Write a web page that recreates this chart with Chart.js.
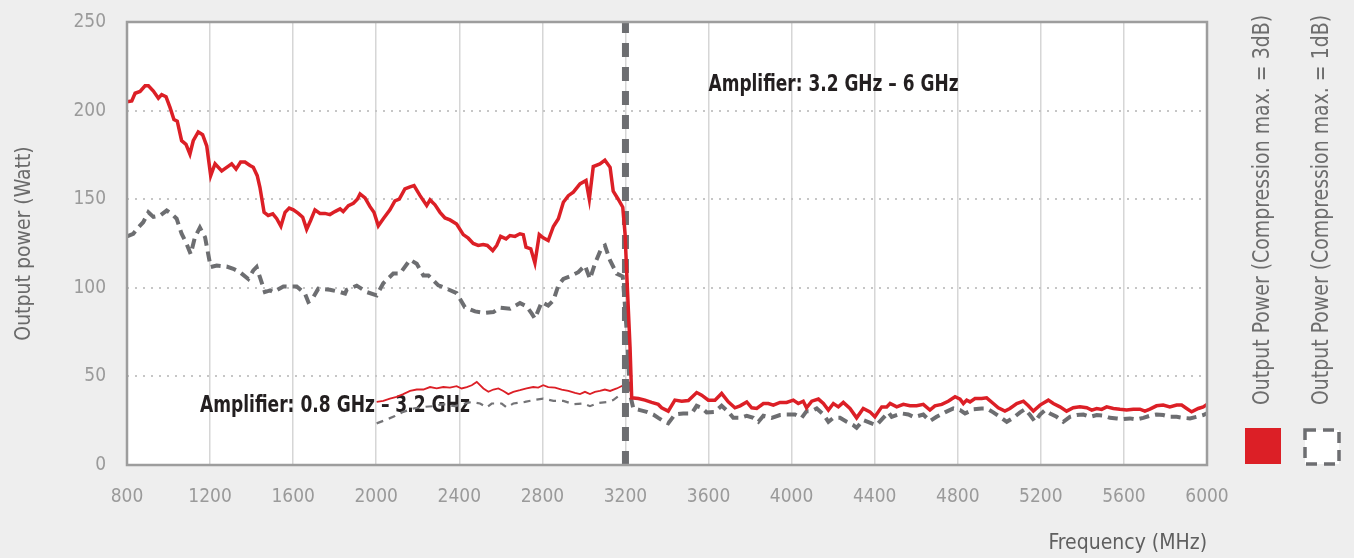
<!DOCTYPE html>
<html>
<head>
<meta charset="utf-8">
<script src="https://cdn.jsdelivr.net/npm/chart.js@4.4.1/dist/chart.umd.min.js"></script>
<style>
  html, body { margin: 0; padding: 0; background: #eeeeee; }
</style>
</head>
<body>
<canvas id="myChart" width="1354" height="558"></canvas>
<script>
'use strict';

// thick red: output power, compression max. = 3dB
var freq3dB = [
    800, 823, 839, 863, 887, 903, 927, 951, 967, 988,
    1007, 1026, 1042, 1063, 1084, 1103, 1119, 1143, 1164, 1184,
    1203, 1224, 1256, 1280, 1304, 1325, 1347, 1368, 1392, 1408,
    1427, 1440, 1460, 1480, 1502, 1521, 1541, 1561, 1581, 1601,
    1625, 1646, 1665, 1684, 1705, 1729, 1753, 1777, 1801, 1826,
    1841, 1866, 1890, 1909, 1922, 1946, 1970, 1989, 2010, 2034,
    2066, 2090, 2111, 2138, 2163, 2182, 2211, 2243, 2259, 2283,
    2307, 2331, 2355, 2387, 2419, 2443, 2467, 2491, 2515, 2535,
    2561, 2580, 2599, 2625, 2644, 2668, 2692, 2708, 2721, 2744,
    2764, 2785, 2804, 2828, 2853, 2877, 2901, 2925, 2949, 2981,
    3010, 3026, 3045, 3077, 3101, 3126, 3141, 3165, 3187, 3198,
    3209, 3222, 3230, 3262, 3294, 3326, 3358, 3374, 3406, 3438,
    3471, 3503, 3543, 3567, 3599, 3631, 3663, 3695, 3727, 3752,
    3784, 3808, 3832, 3864, 3888, 3912, 3944, 3976, 4008, 4032,
    4056, 4072, 4097, 4129, 4153, 4177, 4201, 4225, 4249, 4281,
    4313, 4345, 4377, 4401, 4434, 4458, 4474, 4506, 4538, 4570,
    4602, 4634, 4666, 4690, 4723, 4754, 4787, 4811, 4827, 4843,
    4859, 4883, 4915, 4939, 4971, 4995, 5027, 5051, 5084, 5116,
    5140, 5164, 5196, 5236, 5260, 5292, 5324, 5356, 5388, 5421,
    5445, 5469, 5493, 5517, 5549, 5581, 5613, 5645, 5677, 5701,
    5725, 5757, 5789, 5821, 5854, 5878, 5902, 5926, 5958, 5982, 6000
];
var power3dB = [
    205, 205.5, 209.8, 210.8, 214, 214, 211, 207, 209, 207.8,
    201.8, 195, 194, 183, 181, 175.5, 183, 188, 186.4, 180,
    163.3, 170, 166, 168, 170, 167, 171, 171, 169, 168,
    163.3, 156.7, 142.6, 140.8, 141.7, 139, 134.7, 142.6, 145, 144,
    142, 139.8, 133, 138, 144, 142, 142, 141.3, 143, 144.5,
    143, 146.4, 147.7, 150, 153, 150.7, 145.8, 142.6, 135, 139,
    144, 149, 150, 155.8, 157, 157.7, 152, 146.4, 149.6, 146.8,
    142.6, 139.4, 138.3, 136, 130, 128, 125, 123.9, 124.4, 123.9,
    121, 123.9, 129, 127.6, 129.5, 129, 130.5, 130, 122.9, 122,
    114, 130, 128.2, 126.7, 134.6, 139, 148.3, 152, 154, 158.6,
    160.5, 150, 168.4, 169.9, 172, 168, 154.5, 150, 145.5, 130.5,
    100.4, 66.6, 37.9, 37.5, 36.6, 35.3, 34.2, 32.3, 30.4, 36.6,
    36, 36.4, 40.9, 39.4, 36.6, 36.6, 40.4, 35.6, 32.3, 33.4,
    35.6, 32.3, 31.9, 34.7, 34.7, 33.8, 35.3, 35.3, 36.6, 34.7,
    36, 32.3, 36, 37.2, 34.7, 31, 34.7, 32.8, 35.3, 31.9,
    26.6, 31.9, 30, 27.2, 32.8, 32.8, 34.7, 32.8, 34.2, 33.5,
    33.4, 34.2, 31, 33.4, 34.2, 36, 38.5, 37.2, 34.7, 36.6,
    35.6, 37.5, 37.5, 37.9, 34.7, 32.3, 30.4, 31.9, 34.7, 36,
    33.4, 30.4, 33.8, 36.6, 34.7, 32.8, 30.4, 32.3, 32.8, 32.3,
    31, 31.9, 31.4, 32.8, 31.9, 31.4, 31, 31.5, 31.5, 30.4,
    31.5, 33.4, 33.8, 32.8, 33.8, 33.8, 31.9, 30, 31.9, 32.8, 34.2
];

// thick grey dashed: output power, compression max. = 1dB
var freq1dB = [
    800, 830, 854, 878, 903, 927, 959, 991, 1015, 1039,
    1063, 1087, 1107, 1127, 1151, 1176, 1191, 1203, 1232, 1280,
    1312, 1344, 1384, 1408, 1424, 1440, 1464, 1489, 1504, 1553,
    1617, 1657, 1673, 1689, 1721, 1777, 1826, 1850, 1858, 1906,
    1954, 2002, 2034, 2082, 2114, 2163, 2195, 2227, 2251, 2299,
    2339, 2387, 2427, 2476, 2524, 2564, 2596, 2644, 2692, 2724,
    2749, 2764, 2797, 2828, 2853, 2877, 2901, 2933, 2973, 3005,
    3029, 3053, 3086, 3101, 3126, 3158, 3187, 3198, 3209, 3222,
    3238, 3270, 3302, 3334, 3358, 3382, 3406, 3438, 3478, 3519,
    3543, 3567, 3591, 3631, 3663, 3695, 3719, 3752, 3784, 3816,
    3840, 3864, 3904, 3944, 3976, 4016, 4048, 4072, 4097, 4121,
    4153, 4177, 4201, 4233, 4265, 4297, 4313, 4345, 4385, 4409,
    4441, 4466, 4482, 4530, 4562, 4590, 4634, 4666, 4698, 4738,
    4779, 4811, 4835, 4859, 4875, 4915, 4939, 4971, 5003, 5036,
    5067, 5100, 5124, 5148, 5172, 5196, 5220, 5244, 5276, 5308,
    5340, 5373, 5405, 5437, 5469, 5501, 5533, 5565, 5597, 5629,
    5661, 5693, 5725, 5757, 5789, 5821, 5854, 5886, 5918, 5950, 5982, 6000
];
var power1dB = [
    129, 130.5, 134, 137, 142.6, 140, 140.8, 143.6, 141.7, 139,
    130.5, 124.8, 119, 128.5, 134, 128.5, 119, 111.7, 112.6, 112,
    110.7, 108.8, 105, 109.8, 111.7, 106, 97.6, 98.5, 97.6, 100.8,
    100.8, 96.7, 92, 93, 99.5, 98.9, 97.6, 96.7, 98.9, 101.2,
    97.6, 95.7, 102.6, 108, 108, 115.8, 113.6, 107, 107, 101.4,
    99.5, 97, 89, 86.7, 85.8, 86.3, 88.8, 88.2, 91.4, 89.5,
    85.4, 82.6, 92, 90, 92.9, 101.4, 105, 106.4, 108.8, 112.6,
    105, 113.6, 122.9, 123.9, 115.4, 108, 106.4, 89, 70, 40,
    31.9, 31, 30, 28.5, 26.6, 24.8, 23.5, 28.5, 29.1, 29.1,
    33.4, 32.3, 29.7, 30, 33.4, 30, 26.6, 26.6, 27.8, 26.6,
    24.4, 27.8, 26.6, 28.2, 28.5, 28.5, 26.6, 30.4, 30.4, 31.9,
    28.5, 24.4, 26.6, 26.6, 24.4, 22.5, 21, 25.3, 23.5, 22.5,
    26.6, 29.7, 27.2, 29.1, 28.5, 27, 28.5, 24.8, 27.2, 29.7,
    31.9, 31, 29.1, 30.4, 31.5, 31.9, 31.9, 29.7, 27.2, 24.4,
    26.6, 29.7, 31.5, 28.2, 24.4, 28.5, 31, 29.1, 27.2, 24.4,
    27.2, 28.2, 28.5, 27.2, 28.2, 27.8, 26.6, 26.3, 25.9, 26.3,
    25.7, 26.6, 27.8, 28.5, 28.2, 27.2, 27.2, 26.6, 26.3, 27.2, 28.2, 29.1
];

// thin lines: 3.2-6 GHz amplifier measured below its band
var freqLow3dB = [
    2002, 2034, 2066, 2098, 2130, 2163, 2195, 2227, 2259, 2291,
    2323, 2355, 2387, 2411, 2436, 2460, 2484, 2516, 2540, 2564,
    2588, 2612, 2636, 2660, 2692, 2724, 2756, 2780, 2804, 2828,
    2861, 2893, 2925, 2957, 2981, 3005, 3029, 3053, 3077, 3101,
    3126, 3158, 3190, 3206
];
var powerLow3dB = [
    35.6, 36.2, 37.5, 38.5, 40, 41.8, 42.6, 42.6, 44, 43.2,
    44, 43.7, 44.5, 43.2, 44, 45, 46.9, 43.2, 41.3, 42.6,
    43.2, 41.8, 40, 41.3, 42.2, 43.2, 44, 43.7, 45, 44,
    43.7, 42.6, 41.8, 40.7, 40, 41.3, 40, 41.3, 41.8, 42.6,
    41.8, 43.2, 45, 45.6
];
var freqLow1dB = [
    2002, 2042, 2090, 2130, 2179, 2227, 2275, 2323, 2379, 2427,
    2460, 2500, 2532, 2556, 2604, 2628, 2660, 2716, 2756, 2804,
    2853, 2901, 2949, 2997, 3029, 3069, 3117, 3141, 3165, 3183
];
var powerLow1dB = [
    23.5, 25.3, 27.6, 30, 31.9, 32.8, 33.2, 34.3, 33.2, 34.7,
    35.6, 34.7, 32.5, 34.7, 34.7, 32.5, 34.7, 35.6, 36.6, 37.5,
    36.2, 36.2, 34.3, 34.7, 33.2, 35, 35.6, 36.6, 38.8, 40
];

var bandSplit = 3200;
var bandNames = ['Amplifier: 0.8 GHz \u2013 3.2 GHz', 'Amplifier: 3.2 GHz \u2013 6 GHz'];
var seriesNames = ['Output Power (Compression max. = 3dB)', 'Output Power (Compression max. = 1dB)'];

var RED = '#dc1f26';
var GREY = '#6d6e71';
var FONT = "'DejaVu Sans Condensed', 'Liberation Sans Narrow', sans-serif";

/**
 * Zips two arrays into chart.js {x, y} points
 */
var toPoints = function(xs, ys) {
    return xs.map(function(x, i) { return {x: x, y: ys[i]}; });
};

/**
 * Draws text squeezed horizontally so it is `width` px long
 */
var squeezedText = function(ctx, text, x, y, width) {
    var w = ctx.measureText(text).width;
    var k = Math.min(1, width / w);
    ctx.save();
    ctx.translate(x, y);
    ctx.scale(k, 1);
    ctx.fillText(text, 0, 0);
    ctx.restore();
};

/**
 * Background, plot frame, band labels and the rotated legend
 */
var decorPlugin = {
    id: 'decor',
    beforeDraw: function(chart) {
        var ctx = chart.ctx, a = chart.chartArea;
        ctx.save();
        ctx.fillStyle = '#eeeeee';
        ctx.fillRect(0, 0, chart.width, chart.height);
        ctx.fillStyle = '#ffffff';
        ctx.fillRect(a.left, a.top, a.right - a.left, a.bottom - a.top);
        ctx.restore();
    },
    beforeDatasetsDraw: function(chart) {
        var ctx = chart.ctx, xs = chart.scales.x, ys = chart.scales.y;
        // label anchors in data units (MHz, Watt)
        var anchors = [[1151, 33], [3600, 214.5]];
        var widths = [270, 250];
        ctx.save();
        ctx.font = 'bold 23px ' + FONT;
        ctx.fillStyle = '#231f20';
        ctx.textAlign = 'left';
        ctx.textBaseline = 'middle';
        bandNames.forEach(function(name, i) {
            squeezedText(ctx, name, xs.getPixelForValue(anchors[i][0]),
                ys.getPixelForValue(anchors[i][1]), widths[i]);
        });
        ctx.restore();
    },
    afterDraw: function(chart) {
        var ctx = chart.ctx, a = chart.chartArea;
        ctx.save();
        ctx.strokeStyle = '#9d9d9d';
        ctx.lineWidth = 2.5;
        ctx.strokeRect(a.left, a.top, a.right - a.left, a.bottom - a.top);

        // legend, rotated, to the right of the plot
        ctx.font = '23px ' + FONT;
        ctx.fillStyle = '#6d6d6d';
        ctx.textAlign = 'left';
        ctx.textBaseline = 'middle';
        [1263, 1322].forEach(function(x, i) {
            ctx.save();
            ctx.translate(x, 405);
            ctx.rotate(-Math.PI / 2);
            squeezedText(ctx, chart.data.datasets[i].label, 0, 0, 390);
            ctx.restore();
        });
        ctx.fillStyle = RED;
        ctx.fillRect(1245, 428, 36, 36);
        ctx.fillStyle = '#ffffff';
        ctx.fillRect(1305, 430, 34, 34);
        ctx.setLineDash([11, 7]);
        ctx.lineWidth = 3.5;
        ctx.strokeStyle = GREY;
        ctx.strokeRect(1305, 430, 34, 34);
        ctx.restore();
    }
};

var buildChart = function() {
    var ctx = document.getElementById('myChart');
    return new Chart(ctx, {
        type: 'line',
        data: {
            datasets: [{
                label: seriesNames[0],
                data: toPoints(freq3dB, power3dB),
                borderColor: RED,
                borderWidth: 3.5
            }, {
                label: seriesNames[1],
                data: toPoints(freq1dB, power1dB),
                borderColor: GREY,
                borderWidth: 4,
                borderDash: [10, 6]
            }, {
                label: 'split',
                data: [{x: bandSplit, y: 0}, {x: bandSplit, y: 250}],
                borderColor: GREY,
                borderWidth: 7,
                borderDash: [14, 10],
                borderCapStyle: 'butt'
            }, {
                label: 'low 3dB',
                data: toPoints(freqLow3dB, powerLow3dB),
                borderColor: RED,
                borderWidth: 1.8
            }, {
                label: 'low 1dB',
                data: toPoints(freqLow1dB, powerLow1dB),
                borderColor: '#747477',
                borderWidth: 2.2,
                borderDash: [7, 6]
            }]
        },
        options: {
            responsive: false,
            animation: false,
            layout: {padding: {top: 22, right: 147, bottom: 0, left: 0}},
            elements: {
                point: {radius: 0},
                line: {tension: 0} // jagged measurement lines
            },
            plugins: {legend: {display: false}, tooltip: {enabled: false}},
            scales: {
                x: {
                    type: 'linear',
                    min: 800,
                    max: 6000,
                    afterFit: function(scale) {
                        scale.height = 93;
                        scale.paddingLeft = 0;
                        scale.paddingRight = 0;
                    },
                    ticks: {
                        stepSize: 400,
                        padding: 21,
                        color: '#9a9a9a',
                        font: {family: FONT, size: 19},
                        callback: function(v) { return String(v); }
                    },
                    grid: {color: '#d6d6d6', lineWidth: 1.5, drawTicks: false},
                    border: {display: false},
                    title: {
                        display: true,
                        text: 'Frequency (MHz)',
                        align: 'end',
                        color: '#5f5f5f',
                        font: {family: FONT, size: 21},
                        padding: {top: 0, bottom: 2}
                    }
                },
                y: {
                    min: 0,
                    max: 250,
                    afterFit: function(scale) {
                        scale.width = 127;
                        scale.paddingTop = 0;
                        scale.paddingBottom = 0;
                    },
                    ticks: {
                        stepSize: 50,
                        padding: 21,
                        color: '#9a9a9a',
                        font: {family: FONT, size: 19}
                    },
                    grid: {color: '#c6c6c6', lineWidth: 2, drawTicks: false},
                    border: {display: false, dash: [2, 6]},
                    title: {
                        display: true,
                        text: 'Output power (Watt)',
                        color: '#6a6a6a',
                        font: {family: FONT, size: 21},
                        padding: {top: 12, bottom: 0}
                    }
                }
            }
        },
        plugins: [decorPlugin]
    });
};

buildChart();
</script>
</body>
</html>
